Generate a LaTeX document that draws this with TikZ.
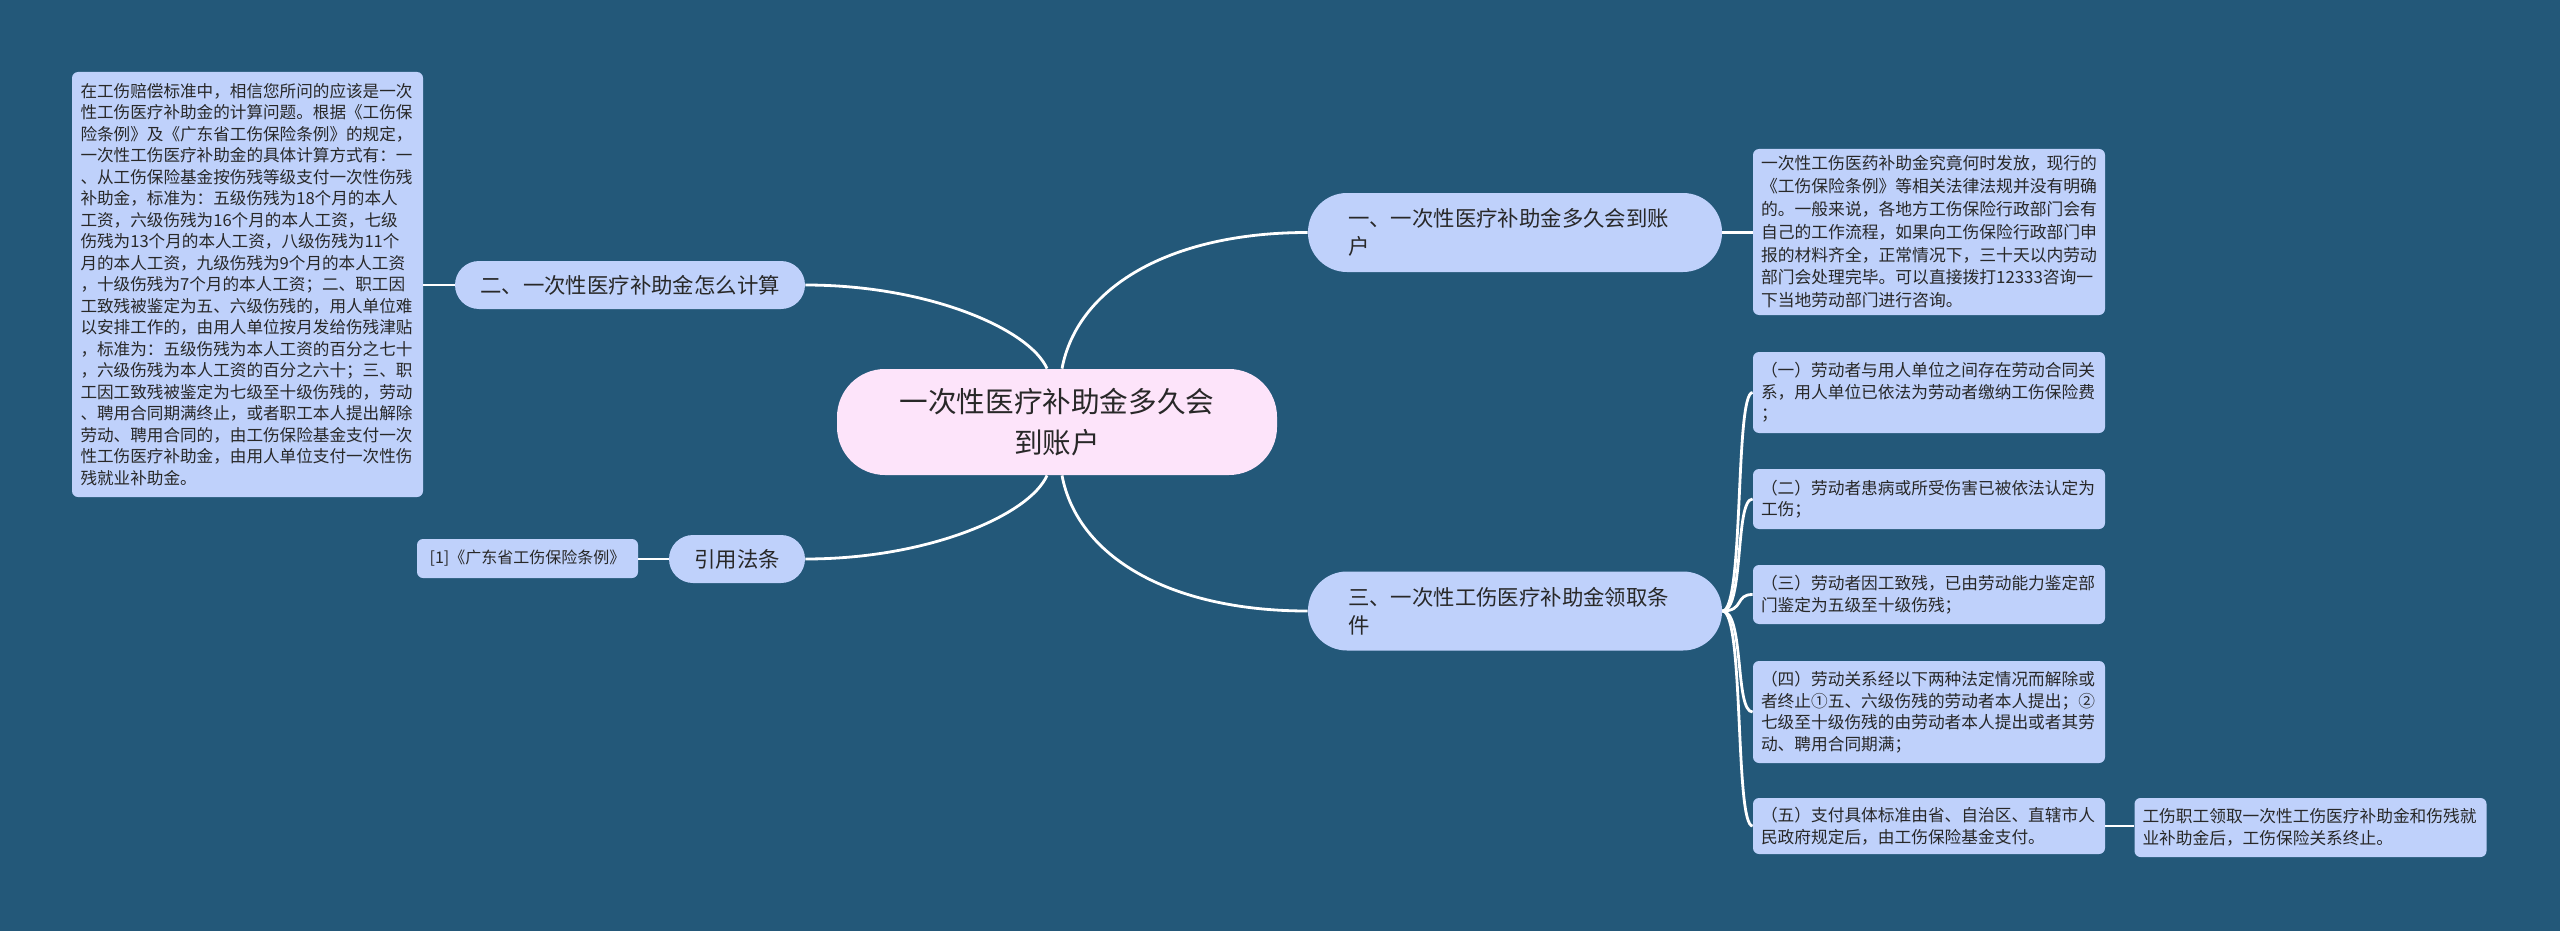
\documentclass[tikz,border=0pt]{standalone}
\usepackage{fontspec}
\setmainfont{Noto Sans CJK SC}
\usetikzlibrary{calc}
\definecolor{bg}{RGB}{35,88,121}
\definecolor{nodeblue}{RGB}{191,209,251}
\definecolor{rootpink}{RGB}{253,228,250}
\definecolor{txt}{RGB}{40,40,40}
\begin{document}
\begin{tikzpicture}[x=0.5pt,y=-0.5pt,
  leaf/.style={fill=nodeblue, rounded corners=3pt, inner xsep=4pt, inner ysep=0pt,
    text width=168pt, align=left, text=txt, font=\fontsize{8.35pt}{10.8pt}\selectfont},
  branch/.style={fill=nodeblue, inner sep=0pt, text=txt, font=\fontsize{10.7pt}{14pt}\selectfont},
  root/.style={fill=rootpink, rounded corners=24pt, inner sep=0pt, align=center, text=txt,
    minimum width=220pt, minimum height=53pt, font=\fontsize{14.3pt}{20.5pt}\selectfont},
  link/.style={draw=white, line width=1.4pt}
]
\fill[bg] (0,0) rectangle (2560,931);
\useasboundingbox (0,0) rectangle (2560,931);

% root
\node[root] (root) at (1057,422) {一次性医疗补助金多久会\\到账户};

% left branches
\node[branch, rounded corners=12pt, minimum width=175pt, minimum height=24pt] (n2) at (630,285) {二、一次性医疗补助金怎么计算};
\node[branch, rounded corners=12pt, minimum width=68pt, minimum height=24pt] (law) at (737,559) {引用法条};

\node[leaf, minimum height=212.5pt, font=\fontsize{8.3pt}{10.75pt}\selectfont, text width=167pt, inner xsep=4.25pt] (calc) at (247.5,284.5) {在工伤赔偿标准中，相信您所问的应该是一次\\性工伤医疗补助金的计算问题。根据《工伤保\\险条例》及《广东省工伤保险条例》的规定，\\一次性工伤医疗补助金的具体计算方式有：一\\、从工伤保险基金按伤残等级支付一次性伤残\\补助金，标准为：五级伤残为18个月的本人\\工资，六级伤残为16个月的本人工资，七级\\伤残为13个月的本人工资，八级伤残为11个\\月的本人工资，九级伤残为9个月的本人工资\\，十级伤残为7个月的本人工资；二、职工因\\工致残被鉴定为五、六级伤残的，用人单位难\\以安排工作的，由用人单位按月发给伤残津贴\\，标准为：五级伤残为本人工资的百分之七十\\，六级伤残为本人工资的百分之六十；三、职\\工因工致残被鉴定为七级至十级伤残的，劳动\\、聘用合同期满终止，或者职工本人提出解除\\劳动、聘用合同的，由工伤保险基金支付一次\\性工伤医疗补助金，由用人单位支付一次性伤\\残就业补助金。};

\node[fill=nodeblue, rounded corners=3pt, inner sep=0pt, minimum width=110.5pt, minimum height=19.5pt, text=txt, font=\fontsize{8pt}{10pt}\selectfont] (ref) at (527.5,558.5) {[1]《广东省工伤保险条例》};

% right branches
\node[branch, rounded corners=19.5pt, minimum width=207pt, minimum height=39.5pt, text width=167pt, align=left] (n1) at (1515,232.5) {一、一次性医疗补助金多久会到账\\户};
\node[branch, rounded corners=19.5pt, minimum width=207pt, minimum height=39.5pt, text width=167pt, align=left] (n3) at (1515,611) {三、一次性工伤医疗补助金领取条\\件};

\node[leaf, minimum height=83pt, font=\fontsize{8.4pt}{11.4pt}\selectfont] (rb1) at (1929,232) {一次性工伤医药补助金究竟何时发放，现行的\\《工伤保险条例》等相关法律法规并没有明确\\的。一般来说，各地方工伤保险行政部门会有\\自己的工作流程，如果向工伤保险行政部门申\\报的材料齐全，正常情况下，三十天以内劳动\\部门会处理完毕。可以直接拨打12333咨询一\\下当地劳动部门进行咨询。};

\node[leaf, minimum height=40.5pt] (i1) at (1929,392.5) {（一）劳动者与用人单位之间存在劳动合同关\\系，用人单位已依法为劳动者缴纳工伤保险费\\；};
\node[leaf, minimum height=30pt] (i2) at (1929,499) {（二）劳动者患病或所受伤害已被依法认定为\\工伤；};
\node[leaf, minimum height=29.5pt] (i3) at (1929,594.5) {（三）劳动者因工致残，已由劳动能力鉴定部\\门鉴定为五级至十级伤残；};
\node[leaf, minimum height=51pt] (i4) at (1929,712) {（四）劳动关系经以下两种法定情况而解除或\\者终止①五、六级伤残的劳动者本人提出；②\\七级至十级伤残的由劳动者本人提出或者其劳\\动、聘用合同期满；};
\node[leaf, minimum height=28pt] (i5) at (1929,826) {（五）支付具体标准由省、自治区、直辖市人\\民政府规定后，由工伤保险基金支付。};
\node[leaf, minimum height=29.5pt] (fin) at (2310.5,827.5) {工伤职工领取一次性工伤医疗补助金和伤残就\\业补助金后，工伤保险关系终止。};

\coordinate (cTL) at ($(root.north)+(-10,0)$);
\coordinate (cTR) at ($(root.north)+(5,0)$);
\coordinate (cBL) at ($(root.south)+(-10,0)$);
\coordinate (cBR) at ($(root.south)+(5,0)$);

% connectors
\draw[link] (cTL) .. controls +(-17,-39) and +(124,0) .. (n2.east);
\draw[link] (cBL) .. controls +(-17,39) and +(124,0) .. (law.east);
\draw[link] (cTR) .. controls +(15,-80) and +(-140,0) .. (n1.west);
\draw[link] (cBR) .. controls +(15,80) and +(-140,0) .. (n3.west);

\draw[link] (n2.west) -- (calc.east |- n2.west);
\draw[link] (law.west) -- (ref.east |- law.west);
\draw[link] (n1.east) -- (rb1.west |- n1.east);
\foreach \i in {i1,i2,i3,i4,i5}{
  \draw[link] (n3.east) .. controls +(22,0) and +(-18,0) .. (\i.west);
}
\draw[link] (i5.east) -- (fin.west |- i5.east);
\end{tikzpicture}
\end{document}
